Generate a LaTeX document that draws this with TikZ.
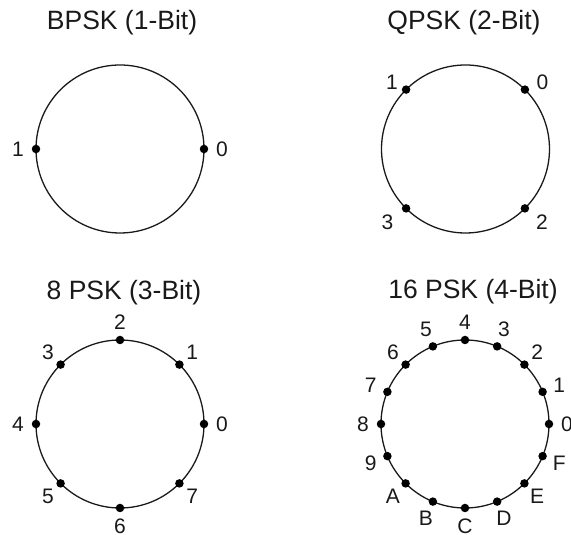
\documentclass[tikz,border=0pt]{standalone}
\usepackage{fontspec}
\setmainfont{Liberation Sans}
\begin{document}
\begin{tikzpicture}[x=1pt,y=1pt,
  ring/.style={line width=1.3pt,color=black!90},
  dot/.style={circle,fill=black,inner sep=0pt,minimum size=8.5pt},
  lab/.style={inner sep=0pt,text=black!90,font=\fontsize{21}{21}\selectfont},
  ttl/.style={inner sep=0pt,text=black!90,font=\fontsize{26.5}{26.5}\selectfont}]
\useasboundingbox (0,0) rectangle (571,535);
% BPSK
\node[ttl] (tA) at (122,512) {BPSK (1-Bit)};
\begin{scope}[shift={(120,386)}]
  \coordinate (cA) at (0,0);
  \draw[ring] (cA) circle[radius=84];
  \foreach \k/\t in {0/0,1/1}{
    \node[dot] (dA\k) at (\k*180:84) {};
    \node[lab] (lA\k) at (\k*180:102) {\t};
  }
\end{scope}
% QPSK
\node[ttl] (tB) at (464,512) {QPSK (2-Bit)};
\begin{scope}[shift={(465.5,386)}]
  \coordinate (cB) at (0,0);
  \draw[ring] (cB) circle[radius=84];
  \foreach \k/\a/\lx/\ly in {0/45/77/66.5,1/135/-73.5/66.5,2/-45/76.5/-73,3/-135/-78/-73}{
    \node[dot] (dB\k) at (\a:84) {};
    \node[lab] (lB\k) at (\lx,\ly) {\k};
  }
\end{scope}
% 8 PSK
\node[ttl] (tC) at (124,242) {8 PSK (3-Bit)};
\begin{scope}[shift={(120,111)}]
  \coordinate (cC) at (0,0);
  \draw[ring] (cC) circle[radius=84];
  \foreach \k in {0,...,7}{
    \node[dot] (dC\k) at (\k*45:84) {};
    \node[lab] (lC\k) at (\k*45:102) {\k};
  }
\end{scope}
% 16 PSK
\node[ttl] (tD) at (473,243) {16 PSK (4-Bit)};
\begin{scope}[shift={(465,111)}]
  \coordinate (cD) at (0,0);
  \draw[ring] (cD) circle[radius=84];
  \foreach \k/\t in {0/0,1/1,2/2,3/3,4/4,5/5,6/6,7/7,8/8,9/9,10/A,11/B,12/C,13/D,14/E,15/F}{
    \node[dot] (dD\k) at (\k*22.5:84) {};
    \node[lab] (lD\k) at (\k*22.5:102) {\t};
  }
\end{scope}
\end{tikzpicture}
\end{document}
